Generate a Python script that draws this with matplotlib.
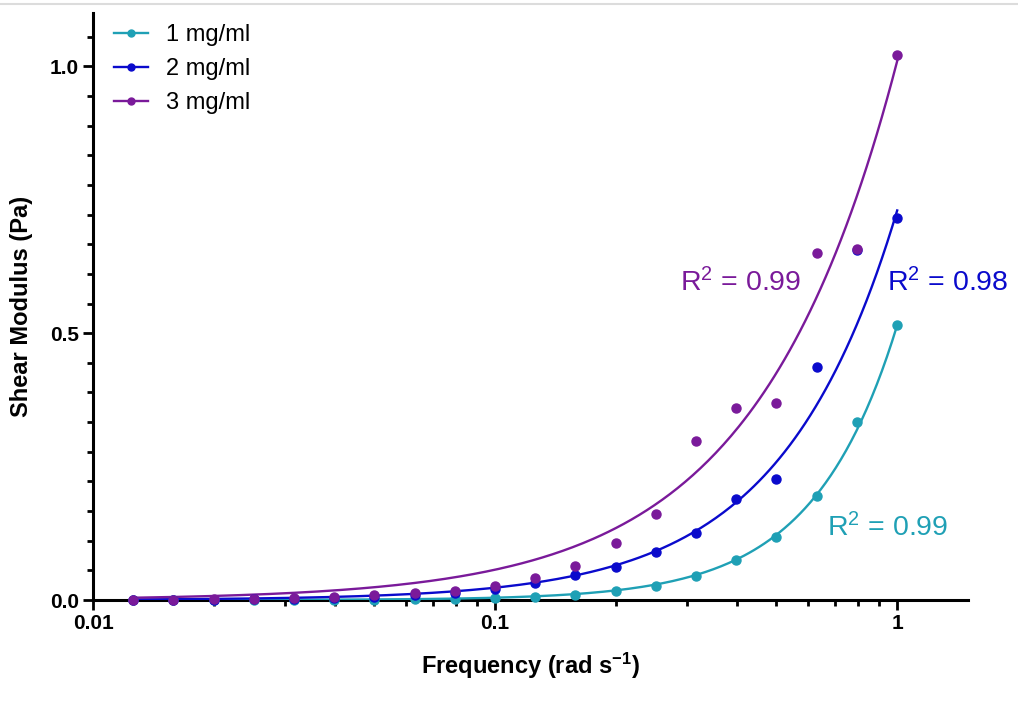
import numpy as np
import matplotlib
matplotlib.use('Agg')
import matplotlib.pyplot as plt
from matplotlib.ticker import FixedLocator, MultipleLocator, LogLocator, NullFormatter
from matplotlib.lines import Line2D

plt.rcParams['font.family'] = ['Liberation Sans', 'DejaVu Sans']
plt.rcParams['mathtext.fontset'] = 'custom'
plt.rcParams['mathtext.rm'] = 'Liberation Sans'
plt.rcParams['mathtext.bf'] = 'Liberation Sans:bold'
plt.rcParams['mathtext.default'] = 'rm'

# frequency (rad/s) and shear modulus (Pa)
freq = [0.0126, 0.0158, 0.02, 0.0251, 0.0316, 0.0398, 0.0501, 0.0631, 0.0794, 0.1,
        0.126, 0.158, 0.2, 0.251, 0.316, 0.398, 0.501, 0.631, 0.794, 1.0]
g_1mg = [0, 0, 0, 0, 0, 0, 0, 0.001, 0.002, 0.004,
         0.006, 0.009, 0.017, 0.026, 0.045, 0.075, 0.118, 0.195, 0.333, 0.515]
g_2mg = [0, 0, 0, 0.001, 0.002, 0.003, 0.006, 0.009, 0.013, 0.021,
         0.032, 0.047, 0.062, 0.090, 0.125, 0.189, 0.227, 0.436, 0.655, 0.715]
g_3mg = [0, 0, 0.001, 0.002, 0.003, 0.005, 0.009, 0.013, 0.016, 0.026,
         0.041, 0.064, 0.107, 0.161, 0.298, 0.359, 0.369, 0.650, 0.657, 1.021]

# power-law fit curves G = a * f**b, parameters
fit_a = [0.515, 0.73, 1.01]
fit_b = [2.08, 1.5, 1.25]

labels = ['1 mg/ml', '2 mg/ml', '3 mg/ml']
r2_text = ['R$^2$ = 0.99', 'R$^2$ = 0.98', 'R$^2$ = 0.99']
colors = ['#1FA0B5', '#0A0ACC', '#7A1A9A']

fig = plt.figure(figsize=(10.18, 7.18), dpi=100)
ax = fig.add_axes([93/1018, 1 - 600/718, 875/1018, 587/718])

xs = np.logspace(np.log10(freq[0]), np.log10(freq[-1]), 300)
handles = []
for y, a, b, lab, c in zip([g_1mg, g_2mg, g_3mg], fit_a, fit_b, labels, colors):
    ax.plot(xs, a * xs ** b, color=c, lw=1.7, zorder=3)
    ax.plot(freq, y, 'o', color=c, ms=6.5, zorder=4, clip_on=False)
    handles.append(Line2D([], [], color=c, lw=1.7, marker='o', ms=5))

ax.set_xscale('log')
ax.set_xlim(0.01, 1.5)
ax.set_ylim(0, 1.1)

ax.xaxis.set_major_locator(FixedLocator([0.01, 0.1, 1]))
ax.set_xticklabels(['0.01', '0.1', '1'])
ax.xaxis.set_minor_locator(LogLocator(base=10, subs=np.arange(2, 10)))
ax.xaxis.set_minor_formatter(NullFormatter())
ax.yaxis.set_major_locator(FixedLocator([0.0, 0.5, 1.0]))
ax.set_yticklabels(['0.0', '0.5', '1.0'])
ax.yaxis.set_minor_locator(MultipleLocator(0.5 / 9))

for s in ['top', 'right']:
    ax.spines[s].set_visible(False)
for s in ['left', 'bottom']:
    ax.spines[s].set_linewidth(2.2)
ax.tick_params(which='major', direction='out', length=7, width=2, labelsize=15, pad=3)
ax.tick_params(which='minor', direction='out', length=4.5, width=2)
for t in ax.get_xticklabels() + ax.get_yticklabels():
    t.set_fontweight('bold')

ax.set_xlabel('Frequency (rad s$^{\\mathbf{-1}}$)', fontsize=17, fontweight='bold')
ax.set_ylabel('Shear Modulus (Pa)', fontsize=17, fontweight='bold')
ax.xaxis.set_label_coords(0.5, -0.087)
ax.yaxis.set_label_coords(-0.068, 0.5)

ax.legend(handles, labels, loc='upper left', bbox_to_anchor=(0.0, 1.017),
          frameon=False, fontsize=17, handlelength=1.45, labelspacing=0.5,
          handletextpad=0.75)

ax.text(0.671, 0.54, r2_text[2], transform=ax.transAxes, color=colors[2],
        fontsize=20.5, ha='left', va='center')
ax.text(0.907, 0.54, r2_text[1], transform=ax.transAxes, color=colors[1],
        fontsize=20.5, ha='left', va='center')
ax.text(0.839, 0.124, r2_text[0], transform=ax.transAxes, color=colors[0],
        fontsize=20.5, ha='left', va='center')

# thin grey border line at the very top of the screenshot
fig.add_artist(Line2D([0, 1], [0.995, 0.995], transform=fig.transFigure,
                      color='#dcdcdc', lw=1.5))

fig.savefig('out.png', dpi=100)
